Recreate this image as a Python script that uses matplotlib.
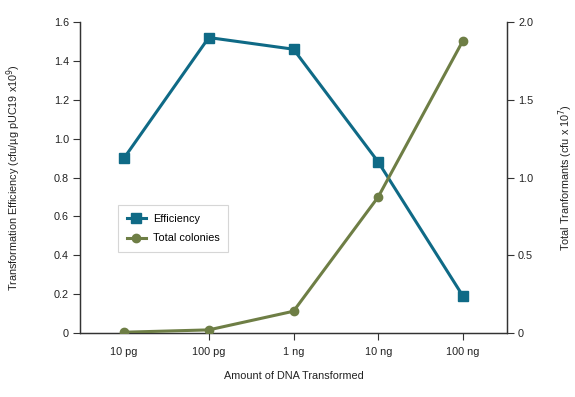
import matplotlib
matplotlib.use("Agg")
import matplotlib.pyplot as plt
from matplotlib.lines import Line2D

plt.rcParams['font.family'] = ['Liberation Sans Narrow', 'Liberation Sans', 'DejaVu Sans']

categories = ["10 pg", "100 pg", "1 ng", "10 ng", "100 ng"]
efficiency = [0.90, 1.52, 1.46, 0.88, 0.19]
total_colonies = [0.005, 0.02, 0.14, 0.875, 1.88]
left_ticks = [0, 0.2, 0.4, 0.6, 0.8, 1.0, 1.2, 1.4, 1.6]
left_labels = ["0", "0.2", "0.4", "0.6", "0.8", "1.0", "1.2", "1.4", "1.6"]
right_ticks = [0, 0.5, 1.0, 1.5, 2.0]
right_labels = ["0", "0.5", "1.0", "1.5", "2.0"]

blue = "#0f6a86"
green = "#6e7e45"
axc = "#333333"
tc = "#222222"
fs = 7.8

fig = plt.figure(figsize=(5.75, 3.97), dpi=100)
ax = fig.add_axes([80/575, 64/397, 427/575, 311/397])
ax2 = ax.twinx()

x = list(range(len(categories)))
ax.plot(x, efficiency, color=blue, lw=2.2, marker='s', ms=6.5, zorder=3)
ax2.plot(x, total_colonies, color=green, lw=2.2, marker='o', ms=6, zorder=3)

ax.set_xlim(-0.52, 4.52)
ax.set_ylim(0, 1.6)
ax2.set_ylim(0, 2.0)

ax.set_xticks(x)
ax.set_xticklabels(categories, fontsize=fs, color=tc)
ax.set_yticks(left_ticks)
ax.set_yticklabels(left_labels, fontsize=fs, color=tc)
ax2.set_yticks(right_ticks)
ax2.set_yticklabels(right_labels, fontsize=fs, color=tc)

ax.tick_params(axis='x', length=5, width=0.8, color=axc, pad=5)
ax.tick_params(axis='y', length=5, width=0.8, color=axc, pad=3)
ax2.tick_params(axis='y', length=5, width=0.8, color=axc, pad=3)
ax.xaxis.get_major_ticks()[0].tick1line.set_visible(False)

for a in (ax, ax2):
    a.spines['top'].set_visible(False)
    for s in ('left', 'right', 'bottom'):
        a.spines[s].set_color(axc)
        a.spines[s].set_linewidth(0.9)

ax.set_xlabel("Amount of DNA Transformed", fontsize=fs, color=tc)
ax.xaxis.set_label_coords(0.5, -(371 - 333) / 311)
ax.set_ylabel(r"Transformation Efficiency (cfu/µg pUC19 x10$^{9}$)", fontsize=fs, color=tc)
ax.yaxis.set_label_coords(-(80 - 23) / 427, 0.5)
ax2.set_ylabel(r"Total Tranformants (cfu x 10$^{7}$)", fontsize=fs, color=tc, rotation=90)
ax2.yaxis.set_label_coords(1 + (556 - 507) / 427, 0.5)

handles = [Line2D([], [], color=blue, lw=2.2, marker='s', ms=6.5),
           Line2D([], [], color=green, lw=2.2, marker='o', ms=6)]
leg = ax.legend(handles, ["Efficiency", "Total colonies"], loc='upper left',
                bbox_to_anchor=(38/427, (333-205)/311), fontsize=fs,
                frameon=True, fancybox=False, edgecolor="#cccccc",
                handlelength=1.8, handletextpad=0.6, borderpad=0.8, labelspacing=0.9,
                borderaxespad=0)
leg.get_frame().set_linewidth(0.8)

fig.savefig("out.png", dpi=100)
